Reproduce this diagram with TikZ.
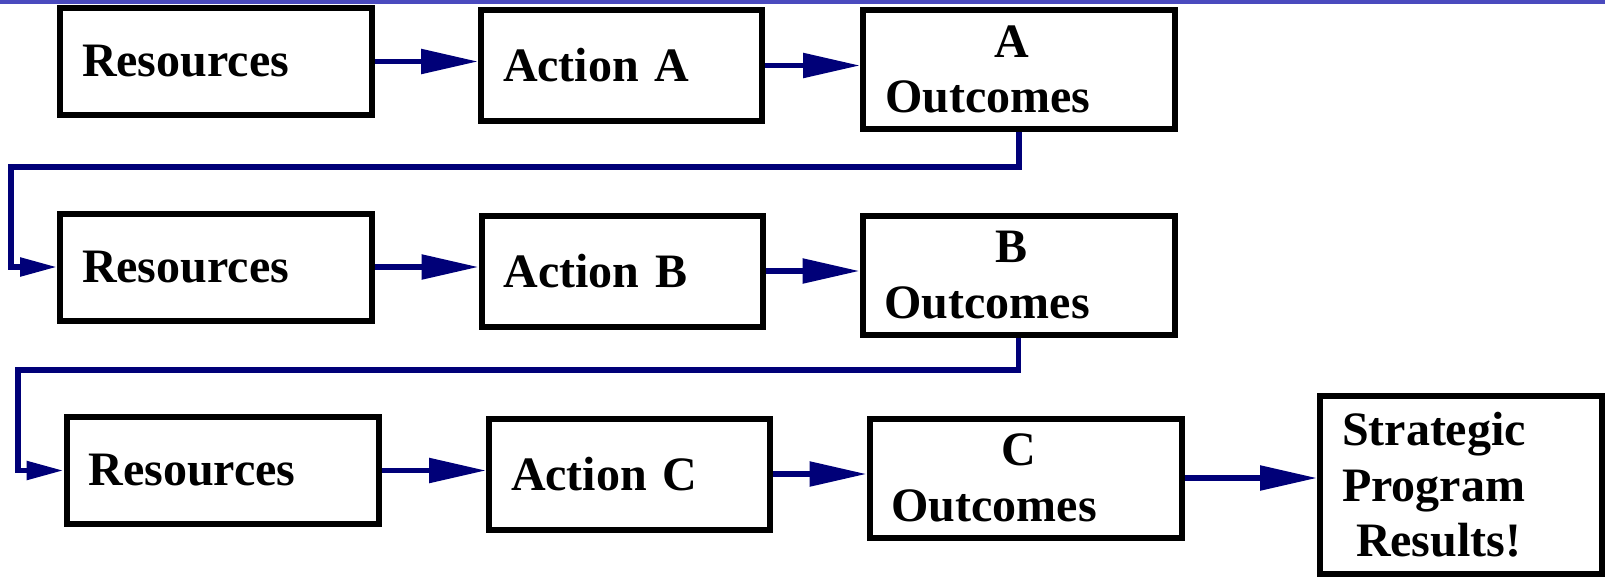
\documentclass[tikz,border=0pt]{standalone}
\usepackage{fontspec}
\setmainfont{Liberation Serif}
\usetikzlibrary{arrows.meta}
\definecolor{flowblue}{RGB}{0,0,120}
\definecolor{barblue}{RGB}{74,74,190}
\tikzset{
    stage/.style={draw, line width=6pt, inner xsep=22pt, inner ysep=0pt, align=left,
        font=\fontsize{48}{55.5}\selectfont\bfseries},
    resbox/.style={stage, minimum width=312pt, text width=268pt, minimum height=107pt},
    actbox/.style={stage, minimum width=281pt, text width=237pt, minimum height=111pt},
    outbox/.style={stage, minimum width=312pt, text width=268pt, minimum height=119pt},
    goalbox/.style={stage, minimum width=282pt, text width=238pt, minimum height=178pt},
    flow/.style={draw=flowblue, line width=5.5pt, -{Triangle[length=57pt,width=24pt]}},
    turnflow/.style={flow, -{Triangle[length=37pt,width=18pt]}}
}
\begin{document}
\begin{tikzpicture}[x=1pt,y=-1pt]
    \useasboundingbox (0,0) rectangle (1605,579);
    \fill[barblue] (0,0) rectangle (1605,4);

    \node[resbox] (resA) at (216,61.5) {Resources};
    \node[actbox] (actA) at (621.5,65.5) {Action A};
    \node[outbox] (outA) at (1019,69.5) {\makebox[\hsize]{A\hspace{14pt}}\\Outcomes};

    \node[resbox] (resB) at (216,267) {Resources};
    \node[actbox] (actB) at (622,271) {Action B};
    \node[outbox] (outB) at (1018.5,275) {\makebox[\hsize]{B\hspace{14pt}}\\Outcomes};

    \node[resbox] (resC) at (222.5,470.5) {Resources};
    \node[actbox] (actC) at (629.5,474) {Action C};
    \node[outbox] (outC) at (1025.5,478) {\makebox[\hsize]{C\hspace{14pt}}\\Outcomes};

    \node[goalbox] (goal) at (1461,485) {Strategic\\Program\\\hspace*{14pt}Results!};

    \coordinate (turnA) at (11,167);
    \coordinate (turnB) at (18,370);

    \draw[flow] (resA.east) -- (resA.east -| actA.west);
    \draw[flow] (actA.east) -- (actA.east -| outA.west);
    \draw[turnflow] (outA.south) |- (turnA) |- (resB.west);
    \draw[flow] (resB.east) -- (resB.east -| actB.west);
    \draw[flow] (actB.east) -- (actB.east -| outB.west);
    \draw[turnflow] (outB.south) |- (turnB) |- (resC.west);
    \draw[flow] (resC.east) -- (resC.east -| actC.west);
    \draw[flow] (actC.east) -- (actC.east -| outC.west);
    \draw[flow] (outC.east) -- (outC.east -| goal.west);
\end{tikzpicture}
\end{document}
